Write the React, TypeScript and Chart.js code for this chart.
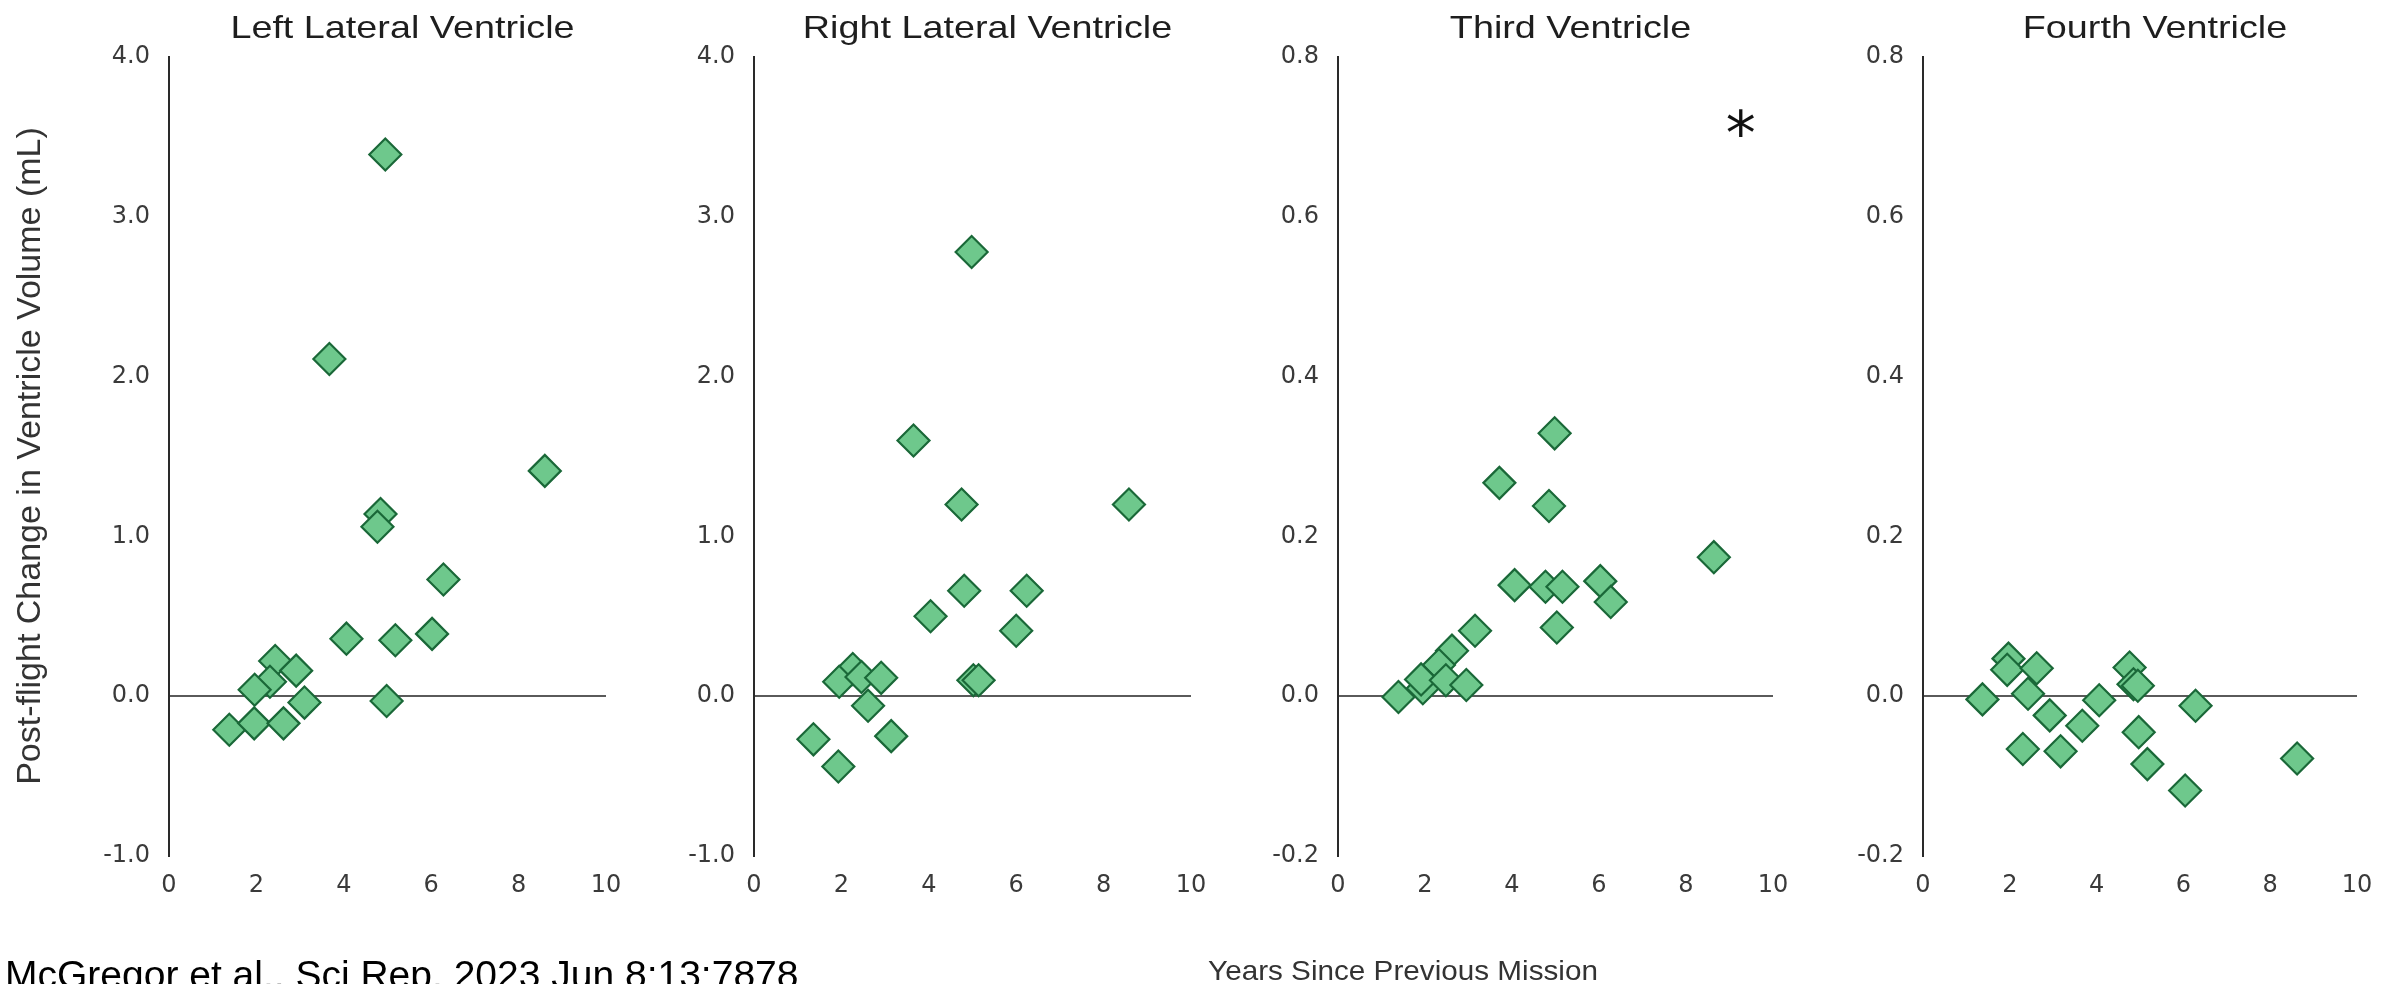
import React, { useEffect, useRef } from 'react';
import { Chart, registerables } from 'chart.js';

Chart.register(...registerables);

// ---------- data ----------
const panelTitles = ['Left Lateral Ventricle', 'Right Lateral Ventricle', 'Third Ventricle', 'Fourth Ventricle'];
const xTickValues = [0, 2, 4, 6, 8, 10];
const lateralYTicks = [-1, 0, 1, 2, 3, 4];
const smallYTicks = [-0.2, 0, 0.2, 0.4, 0.6, 0.8];

const leftLateralYears = [4.95, 3.67, 8.6, 4.84, 4.77, 6.28, 4.06, 5.18, 6.02, 2.43, 2.91, 2.31, 1.96, 3.1, 4.98, 1.38, 1.95, 2.62];
const leftLateralChange = [3.39, 2.11, 1.41, 1.14, 1.06, 0.73, 0.36, 0.35, 0.39, 0.22, 0.16, 0.09, 0.04, -0.04, -0.03, -0.21, -0.17, -0.17];

const rightLateralYears = [4.98, 3.65, 4.75, 8.58, 4.81, 6.24, 4.04, 6.0, 2.26, 1.95, 2.46, 2.91, 5.02, 5.14, 2.61, 1.36, 3.14, 1.93];
const rightLateralChange = [2.78, 1.6, 1.2, 1.2, 0.66, 0.66, 0.5, 0.41, 0.17, 0.09, 0.12, 0.115, 0.1, 0.1, -0.06, -0.27, -0.25, -0.44];

const thirdYears = [4.98, 3.71, 4.85, 8.64, 4.06, 4.77, 5.16, 6.03, 6.27, 5.03, 3.15, 2.62, 2.32, 1.95, 1.91, 2.48, 2.95, 1.39];
const thirdChange = [0.329, 0.267, 0.238, 0.174, 0.139, 0.137, 0.137, 0.144, 0.118, 0.086, 0.082, 0.057, 0.039, 0.01, 0.021, 0.02, 0.014, -0.001];

const fourthYears = [1.97, 1.94, 2.62, 1.37, 2.42, 2.92, 3.67, 4.06, 4.76, 4.97, 4.85, 4.95, 5.17, 6.28, 6.04, 8.62, 2.3, 3.17];
const fourthChange = [0.047, 0.033, 0.035, -0.004, 0.003, -0.024, -0.037, -0.005, 0.036, -0.045, 0.015, 0.013, -0.085, -0.012, -0.118, -0.078, -0.066, -0.069];

const yAxisTitle = 'Post-flight Change in Ventricle Volume (mL)';
const xAxisTitle = 'Years Since Previous Mission';
const citation = 'McGregor et al., Sci Rep. 2023 Jun 8;13:7878';
const significanceMark = '*';
const significanceAt = { x: 9.26, y: 0.722 }; // data coordinates, Third Ventricle panel

// ---------- layout / style ----------
const W = 2402;
const H = 984;
const AXIS_LEFT = [169, 754, 1338, 1923];
const AXIS_RIGHT = [606, 1191, 1773, 2357];
const PLOT_TOP = 57;
const PLOT_BOTTOM = 856;
const Y_AXIS_W = 80;
const X_AXIS_H = 60;
const FILL = 'rgb(110, 200, 140)';
const EDGE = 'rgb(26, 104, 56)';

const panels = [
  { title: panelTitles[0], xs: leftLateralYears, ys: leftLateralChange, yTicks: lateralYTicks },
  { title: panelTitles[1], xs: rightLateralYears, ys: rightLateralChange, yTicks: lateralYTicks },
  { title: panelTitles[2], xs: thirdYears, ys: thirdChange, yTicks: smallYTicks, mark: true },
  { title: panelTitles[3], xs: fourthYears, ys: fourthChange, yTicks: smallYTicks },
];

function drawText(ctx: CanvasRenderingContext2D, text: string, x: number, y: number, size: number, sx: number, color: string, align: CanvasTextAlign = 'center', family = '"Liberation Sans", Arial, sans-serif') {
  ctx.save();
  ctx.translate(x, y);
  ctx.scale(sx, 1);
  ctx.font = `${size}px ${family}`;
  ctx.fillStyle = color;
  ctx.textAlign = align;
  ctx.textBaseline = 'alphabetic';
  ctx.fillText(text, 0, 0);
  ctx.restore();
}

const decorPlugin = {
  id: 'decor',
  afterDraw(chart: any, _args: any, opts: any) {
    const { ctx, chartArea } = chart;
    ctx.save();
    const cx = (chartArea.left + chartArea.right) / 2 + 15;
    drawText(ctx, opts.title, cx, 38, 32, 1.18, '#1e1e1e');
    if (opts.mark) {
      const px = chart.scales.x.getPixelForValue(significanceAt.x);
      const py = chart.scales.y.getPixelForValue(significanceAt.y);
      drawText(ctx, significanceMark, px, py + 0.58 * 60, 60, 1.0, '#111', 'center', '"DejaVu Sans", sans-serif');
    }
    if (opts.global) {
      ctx.save();
      ctx.translate(40, 456);
      ctx.rotate(-Math.PI / 2);
      ctx.font = '34px "Liberation Sans", Arial, sans-serif';
      ctx.fillStyle = '#333';
      ctx.textAlign = 'center';
      ctx.textBaseline = 'alphabetic';
      ctx.fillText(yAxisTitle, 0, 0);
      ctx.restore();
      drawText(ctx, xAxisTitle, 1403, 980, 28, 1.06, '#333');
      drawText(ctx, citation, 5, 988, 39, 1.0, '#000', 'left');
    }
    ctx.restore();
  },
};

function makeConfig(i: number): any {
  const p = panels[i];
  const yt = p.yTicks;
  return {
    type: 'scatter',
    data: {
      datasets: [
        {
          data: p.xs.map((x, k) => ({ x, y: p.ys[k] })),
          pointStyle: 'rectRot',
          pointRadius: 16,
          pointHoverRadius: 16,
          pointBackgroundColor: FILL,
          pointBorderColor: EDGE,
          pointBorderWidth: 2.2,
        },
      ],
    },
    options: {
      responsive: false,
      animation: false,
      events: [],
      layout: {
        padding: {
          left: AXIS_LEFT[i] - Y_AXIS_W,
          right: W - AXIS_RIGHT[i],
          top: PLOT_TOP,
          bottom: H - PLOT_BOTTOM - X_AXIS_H,
        },
      },
      plugins: {
        legend: { display: false },
        tooltip: { enabled: false },
        title: { display: false },
        decor: { title: p.title, mark: !!p.mark, global: i === 0 },
      },
      scales: {
        x: {
          type: 'linear',
          min: 0,
          max: 10,
          afterBuildTicks: (s: any) => {
            s.ticks = xTickValues.map((v) => ({ value: v }));
          },
          afterFit: (s: any) => {
            s.height = X_AXIS_H;
          },
          grid: { display: false, drawTicks: false },
          border: { display: false },
          ticks: {
            autoSkip: false,
            maxRotation: 0,
            padding: 15,
            color: '#3a3a3a',
            font: { family: '"DejaVu Sans", sans-serif', size: 24 },
            callback: (v: any) => String(v),
          },
        },
        y: {
          type: 'linear',
          min: yt[0],
          max: yt[yt.length - 1],
          afterBuildTicks: (s: any) => {
            s.ticks = yt.map((v) => ({ value: v }));
          },
          afterFit: (s: any) => {
            s.width = Y_AXIS_W;
          },
          grid: {
            drawTicks: false,
            lineWidth: 2,
            color: (c: any) => (c.tick && Math.abs(c.tick.value) < 1e-9 ? '#5a5a5a' : 'rgba(0,0,0,0)'),
          },
          border: { display: true, color: '#2a2a2a', width: 2 },
          ticks: {
            autoSkip: false,
            padding: 19,
            color: '#3a3a3a',
            font: { family: '"DejaVu Sans", sans-serif', size: 24 },
            callback: (v: any) => Number(v).toFixed(1),
          },
        },
      },
    },
    plugins: [decorPlugin],
  };
}

export default function App() {
  const refs = useRef<(HTMLCanvasElement | null)[]>([]);

  useEffect(() => {
    const charts: Chart[] = [];
    panels.forEach((_, i) => {
      const c = refs.current[i];
      if (c) charts.push(new Chart(c, makeConfig(i)));
    });
    return () => charts.forEach((ch) => ch.destroy());
  }, []);

  return (
    <div style={{ position: 'fixed', left: 0, top: 0, width: W, height: H, background: '#fff', overflow: 'hidden' }}>
      {panels.map((_, i) => (
        <canvas
          key={i}
          ref={(el) => {
            refs.current[i] = el;
          }}
          width={W}
          height={H}
          style={{ position: 'absolute', left: 0, top: 0, width: W, height: H }}
        />
      ))}
    </div>
  );
}
